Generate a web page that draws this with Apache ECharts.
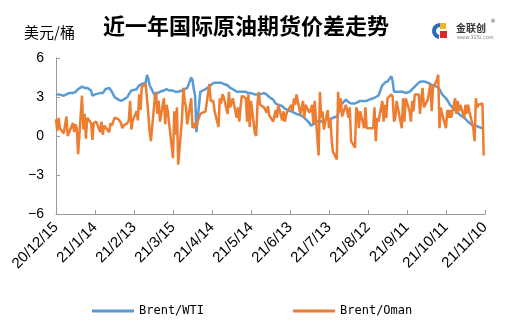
<!DOCTYPE html>
<html>
<head>
<meta charset="utf-8">
<script src="https://cdn.jsdelivr.net/npm/echarts@6/dist/echarts.min.js"></script>
<style>
html,body{margin:0;padding:0;background:#fff;}
#chart{width:510px;height:331px;}
</style>
</head>
<body>
<div id="chart"></div>
<script>
// ---- data ----
const titleText = '近一年国际原油期货价差走势';
const unitText = '美元/桶';
const seriesNames = ['Brent/WTI', 'Brent/Oman'];
const xTickLabels = ['20/12/15','21/1/14','21/2/13','21/3/15','21/4/14','21/5/14','21/6/13','21/7/13','21/8/12','21/9/11','21/10/11','21/11/10'];
const startDate = '2020-12-15';
const lastDate = '2021-11-09';

// Brent/WTI spread, one value per trading day
const brentWti = [
3.2,3.1,3.2,3.1,3.1,
3.1,3.2,3.2,3.3,3.3,
3.3,3.4,3.5,3.6,3.8,
3.8,3.7,3.6,3.7,3.5,
3.1,3.1,3.2,3.2,3.3,
3.3,3.3,3.4,3.6,3.7,
3.7,3.4,3.2,3.0,2.8,
2.7,2.7,2.8,2.8,3.0,
3.2,3.3,3.5,3.5,3.6,
3.7,3.9,4.0,4.0,4.1,
4.7,4.4,3.9,3.8,3.1,
3.2,3.3,3.4,3.4,3.5,
3.6,3.6,3.6,3.5,3.5,
3.5,3.4,3.4,3.4,3.5,
3.6,3.6,3.6,3.7,4.5,
4.3,3.6,3.1,0.3,3.4,
3.4,3.5,3.6,3.6,3.8,
3.9,4.0,4.0,4.1,4.1,
4.1,4.1,4.0,4.0,3.9,
3.8,3.7,3.6,3.6,3.4,
3.4,3.4,3.4,3.4,3.4,
3.4,3.3,3.3,3.3,3.2,
3.2,3.2,3.2,3.2,3.3,
3.3,3.2,3.1,3.0,2.8,
2.7,2.5,2.5,2.4,2.3,
2.2,2.1,2.0,2.0,1.9,
1.9,1.8,1.8,1.7,1.6,
1.5,1.5,1.4,1.3,1.0,
0.8,0.7,0.9,1.0,1.2,
1.2,1.1,1.2,1.2,1.3,
1.3,1.3,1.4,1.4,1.5,
1.7,2.0,2.3,2.5,2.8,
2.8,2.6,2.5,2.5,2.5,
2.6,2.6,2.7,2.7,2.7,
2.7,2.7,2.8,2.8,2.9,
2.9,3.0,3.0,3.1,3.9,
4.0,4.1,4.2,4.2,4.6,
4.2,3.4,3.4,3.4,3.4,
3.4,3.4,3.3,3.3,3.4,
3.5,3.6,3.7,3.8,4.1,
4.1,4.2,4.2,4.2,4.1,
4.1,4.0,4.0,3.9,3.8,
3.7,3.6,3.4,3.2,2.9,
2.8,2.6,2.4,2.3,2.0,
1.9,1.8,1.7,1.6,1.4,
1.3,1.2,1.1,1.0,0.8,
0.9,0.8,0.7,0.7,0.6,
0.6
];

// Brent/Oman spread, one value per trading day
const brentOman = [
1.3,0.4,1.4,0.6,0.2,
0.1,1.5,0.0,0.1,1.0,
0.3,0.9,0.6,-1.4,3.1,
0.5,1.7,-0.2,1.4,1.0,
-0.3,1.0,0.9,1.1,0.3,
1.1,0.1,0.8,0.9,0.3,
1.0,0.8,1.1,1.4,1.3,
1.2,1.0,0.6,0.8,1.0,
1.2,2.7,0.5,1.2,1.9,
1.2,3.2,2.0,3.8,4.0,
2.9,1.7,0.4,-0.4,2.9,
3.4,1.7,2.7,1.1,2.9,
0.9,2.4,1.9,1.9,-1.7,
1.9,0.1,2.2,-2.2,1.4,
3.7,2.7,2.2,0.9,2.9,
0.6,1.0,0.6,0.6,1.7,
1.7,1.8,1.9,1.9,4.0,
2.7,2.7,2.7,1.9,0.7,
2.9,2.5,3.2,3.0,1.7,
3.4,2.2,2.1,2.9,1.4,
2.2,1.1,2.3,3.1,2.9,
1.1,3.2,0.7,2.7,0.2,
0.0,2.5,3.4,2.4,2.2,
2.0,1.8,2.3,1.6,1.1,
1.1,2.0,1.4,2.4,1.2,
1.9,1.1,1.6,1.9,2.4,
1.9,2.9,2.4,3.2,1.7,
1.7,2.7,1.4,2.4,1.8,
2.0,2.4,0.9,2.7,-1.5,
3.4,1.4,1.9,0.5,2.0,
0.6,1.4,-0.2,-1.2,-1.8,
3.4,1.9,2.9,1.5,2.4,
2.5,1.4,2.2,-0.4,-0.9,
2.2,1.9,0.6,1.9,0.6,
2.2,0.6,0.6,0.6,0.6,
2.2,-0.4,1.4,1.1,2.7,
1.1,2.4,1.4,2.9,3.2,
3.0,1.1,1.4,2.7,1.1,
0.6,2.9,1.1,2.9,1.9,
1.1,2.7,1.9,3.2,3.2,
1.7,2.9,3.7,2.2,2.8,
2.8,4.0,1.9,3.7,4.3,
4.7,0.6,2.2,1.7,0.6,
2.0,1.4,2.0,1.4,2.9,
1.7,2.7,1.9,2.4,1.4,
2.4,1.7,2.4,1.9,0.6,
-0.4,2.9,2.2,2.4,2.5,
-1.5
];

const yMin = -6, yMax = 6, yStep = 3;
const xStepDays = 30;

// ---- trading calendar (weekdays) as day offsets from start ----
const DAY = 86400000;
const t0 = Date.parse(startDate + 'T00:00:00Z');
const t1 = Date.parse(lastDate + 'T00:00:00Z');
const dayOffsets = [];
for (let t = t0; t <= t1; t += DAY) {
  const dow = new Date(t).getUTCDay();
  if (dow !== 0 && dow !== 6) dayOffsets.push(Math.round((t - t0) / DAY));
}
const toPairs = vals => vals.map((v, i) => [dayOffsets[i], v]);

const chart = echarts.init(document.getElementById('chart'), null, {renderer: 'canvas'});
const axisGray = '#9a9a9a';
const labelFont = "'Liberation Sans', 'Noto Sans CJK SC', sans-serif";

chart.setOption({
  animation: false,
  backgroundColor: '#ffffff',
  title: [
    {text: titleText, left: 241, top: 10, textAlign: 'center',
     textStyle: {fontSize: 22, fontWeight: 'bold', color: '#000', fontFamily: "'Noto Sans CJK SC', sans-serif"}},
    {text: unitText, left: 19, top: 20,
     textStyle: {fontSize: 15, fontWeight: 'normal', color: '#000', fontFamily: "'Noto Sans CJK SC', sans-serif"}}
  ],
  grid: {left: 56, right: 25, top: 58, bottom: 117, containLabel: false},
  legend: {
    data: seriesNames,
    left: 92, top: 305, padding: 0,
    itemWidth: 42, itemHeight: 3, itemGap: 89,
    icon: 'rect',
    textStyle: {fontFamily: "'DejaVu Sans Mono', monospace", fontSize: 12, color: '#000'}
  },
  xAxis: {
    type: 'value', min: 0, max: xStepDays * (xTickLabels.length - 1), interval: xStepDays,
    axisLine: {show: true, onZero: false, lineStyle: {color: axisGray, width: 1}},
    axisTick: {show: true, inside: true, length: 4, lineStyle: {color: axisGray}},
    splitLine: {show: false},
    axisLabel: {
      rotate: 45, margin: 11, fontSize: 15, color: '#000', fontFamily: labelFont,
      formatter: v => xTickLabels[Math.round(v / xStepDays)] || ''
    }
  },
  yAxis: {
    type: 'value', min: yMin, max: yMax, interval: yStep,
    axisLine: {show: true, onZero: false, lineStyle: {color: axisGray, width: 1}},
    axisTick: {show: true, inside: true, length: 4, lineStyle: {color: axisGray}},
    splitLine: {show: false},
    axisLabel: {
      margin: 12, fontSize: 14, color: '#000', fontFamily: labelFont,
      formatter: v => String(v).replace('-', '\u2212')
    }
  },
  series: [
    {name: seriesNames[0], type: 'line', data: toPairs(brentWti), showSymbol: false,
     color: '#5B9BD5', lineStyle: {width: 2.5, color: '#5B9BD5'}, z: 2},
    {name: seriesNames[1], type: 'line', data: toPairs(brentOman), showSymbol: false,
     color: '#ED7D31', lineStyle: {width: 2.5, color: '#ED7D31'}, z: 3}
  ],
  graphic: [
    // logo icon
    {type: 'arc', shape: {cx: 440, cy: 31, r: 6, startAngle: Math.PI * 0.55, endAngle: Math.PI * 1.6}, style: {stroke: '#2b6cb8', lineWidth: 4, fill: null}},
    {type: 'rect', shape: {x: 440, y: 23, width: 6, height: 6}, style: {fill: '#f0b323'}},
    {type: 'rect', shape: {x: 440, y: 31, width: 7, height: 7}, style: {fill: '#d7282f'}},
    {type: 'text', style: {x: 456, y: 23, text: '金联创', fontSize: 10, fontWeight: 'bold', fill: '#333', fontFamily: "'Noto Sans CJK SC', sans-serif"}},
    {type: 'text', style: {x: 490, y: 18, text: '®', fontSize: 6, fill: '#555', fontFamily: "'DejaVu Sans', sans-serif"}},
    {type: 'text', style: {x: 457, y: 35, text: 'www.315i.com', fontSize: 5, fill: '#777', fontFamily: "'DejaVu Sans', sans-serif"}}
  ]
});
</script>
</body>
</html>
